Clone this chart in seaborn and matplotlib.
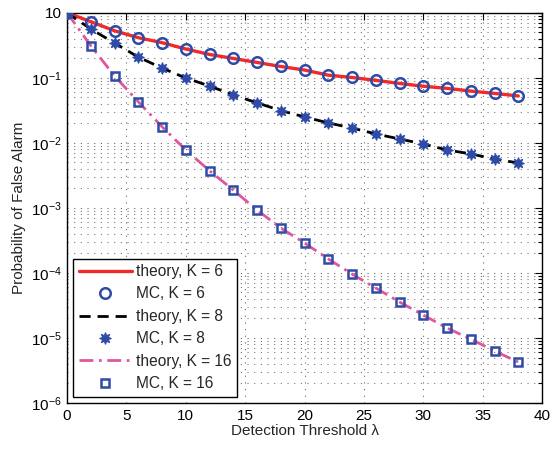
import matplotlib
matplotlib.use("Agg")
import matplotlib.pyplot as plt
import seaborn as sns
import numpy as np
import pandas as pd
from matplotlib.ticker import FixedLocator, FixedFormatter, LogLocator, NullFormatter

# ---- data ----
x_vals = [0, 2, 4, 6, 8, 10, 12, 14, 16, 18, 20, 22, 24, 26, 28, 30, 32, 34, 36, 38]
pfa_k6 = [1.0, 0.728, 0.528, 0.413, 0.346, 0.277, 0.228, 0.198, 0.172, 0.149,
          0.1315, 0.1096, 0.101, 0.0912, 0.0818, 0.0741, 0.0687, 0.0624, 0.0575, 0.0525]
pfa_k8 = [1.0, 0.562, 0.342, 0.208, 0.141, 0.0991, 0.0747, 0.0543, 0.0412, 0.0313,
          0.0250, 0.0202, 0.0169, 0.0137, 0.01146, 0.0096, 0.00776, 0.00676, 0.00563, 0.0049]
pfa_k16 = [1.0, 0.311, 0.1064, 0.0428, 0.01767, 0.00776, 0.00372, 0.00188, 0.000927, 0.00049,
           0.000288, 0.000164, 9.6e-5, 5.86e-5, 3.57e-5, 2.25e-5, 1.42e-5, 9.6e-6, 6.3e-6, 4.26e-6]
x_ticks = [0, 5, 10, 15, 20, 25, 30, 35, 40]
y_ticks = [1e-6, 1e-5, 1e-4, 1e-3, 1e-2, 1e-1, 1e0]
y_tick_labels = ["$10^{-6}$", "$10^{-5}$", "$10^{-4}$", "$10^{-3}$", "$10^{-2}$", "$10^{-1}$", "10"]

sns.set_style("white")
plt.rcParams['font.family'] = ['Liberation Sans', 'DejaVu Sans']
plt.rcParams['mathtext.fontset'] = 'custom'
plt.rcParams['mathtext.rm'] = 'Liberation Sans'
plt.rcParams['mathtext.it'] = 'Liberation Sans'

fig = plt.figure(figsize=(5.52, 4.49), dpi=100)
ax = fig.add_axes([0.1214, 0.1024, 0.8606, 0.8693])

blue = '#2E4BA6'
red = '#EE2A2A'
pink = '#E0569E'

sns.lineplot(x=x_vals, y=pfa_k6, ax=ax, color=red, linewidth=2.4, label='theory, K = 6',
             estimator=None, sort=False, zorder=2)
sns.lineplot(x=x_vals, y=pfa_k6, ax=ax, color=blue, linestyle='none', marker='o', markersize=7.6,
             markerfacecolor='none', markeredgecolor=blue, markeredgewidth=1.8,
             label='MC, K = 6', estimator=None, sort=False, zorder=3)
sns.lineplot(x=x_vals, y=pfa_k8, ax=ax, color='black', linewidth=2.0, linestyle=(0, (4, 2.5)),
             label='theory, K = 8', estimator=None, sort=False, zorder=2)
sns.lineplot(x=x_vals, y=pfa_k8, ax=ax, color=blue, linestyle='none', marker=(8, 1, 0), markersize=8.5,
             markerfacecolor=blue, markeredgecolor=blue, markeredgewidth=0.8,
             label='MC, K = 8', estimator=None, sort=False, zorder=3)
sns.lineplot(x=x_vals, y=pfa_k16, ax=ax, color=pink, linewidth=2.0, linestyle=(0, (5, 2, 1, 2)),
             label='theory, K = 16', estimator=None, sort=False, zorder=2)
sns.lineplot(x=x_vals, y=pfa_k16, ax=ax, color=blue, linestyle='none', marker='s', markersize=6.2,
             markerfacecolor='none', markeredgecolor=blue, markeredgewidth=1.8,
             label='MC, K = 16', estimator=None, sort=False, zorder=3)

ax.set_yscale('log')
ax.set_xlim(0, 40)
ax.set_ylim(1e-6, 1e0)
ax.xaxis.set_major_locator(FixedLocator(x_ticks))
ax.set_xticklabels([str(t) for t in x_ticks])
ax.yaxis.set_major_locator(FixedLocator(y_ticks))
ax.yaxis.set_major_formatter(FixedFormatter(y_tick_labels))
ax.yaxis.set_minor_locator(LogLocator(base=10, subs=np.arange(2, 10), numticks=20))
ax.yaxis.set_minor_formatter(NullFormatter())

ax.grid(True, which='major', axis='both', color='#666666', linestyle=(0, (1, 5)), linewidth=0.8)
ax.grid(True, which='minor', axis='y', color='#777777', linestyle=(0, (1, 5)), linewidth=0.8)
ax.set_axisbelow(True)

ax.tick_params(axis='both', which='both', direction='in', top=True, right=True,
               labelsize=11, colors='black', width=0.8)
ax.tick_params(which='major', length=5, pad=4)
ax.tick_params(which='minor', length=3)
for s in ax.spines.values():
    s.set_color('black')
    s.set_linewidth(1.0)

ax.set_xlabel('Detection Threshold λ', fontsize=11, labelpad=1)
ax.set_ylabel('Probability of False Alarm', fontsize=11, labelpad=3)

leg = ax.legend(loc='lower left', fontsize=11.2, frameon=True, fancybox=False,
                edgecolor='black', framealpha=1, handlelength=3.4, borderpad=0.35,
                labelspacing=0.48, handletextpad=0.3, borderaxespad=0.4)
leg.get_frame().set_linewidth(1.0)

fig.savefig('out.png', dpi=100)
